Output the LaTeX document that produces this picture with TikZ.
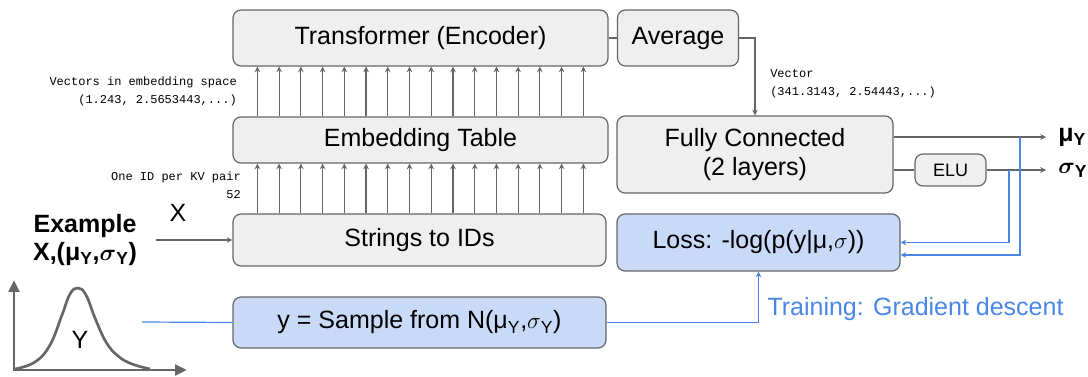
\documentclass[tikz,border=0pt]{standalone}
\usepackage{fontspec}
\setmainfont{Liberation Sans}
\setmonofont{Liberation Mono}
\usepackage{amsmath,amssymb}
\usetikzlibrary{calc,positioning,arrows.meta}
\tikzset{>=stealth}
\definecolor{boxgray}{HTML}{EFEFEF}
\definecolor{linegray}{HTML}{666666}
\definecolor{lossblue}{HTML}{C9DAF8}
\definecolor{trainblue}{HTML}{4A86E8}
\newcommand{\bsig}{$\boldsymbol{\sigma}$}
\newcommand{\sig}{$\sigma$}

\begin{document}
\begin{tikzpicture}[x=0.75pt,y=-0.75pt,
  box/.style={draw=linegray,fill=boxgray,rounded corners=6pt,line width=0.9pt,
    font=\fontsize{18.75}{22}\selectfont,align=center,inner sep=0pt},
  bluebox/.style={box,fill=lossblue},
  wire/.style={draw=linegray,line width=0.9pt},
  fb/.style={draw=trainblue,line width=0.9pt},
  big/.style={font=\fontsize{18.75}{22}\selectfont,inner sep=0pt},
  note/.style={font=\ttfamily\fontsize{9}{13.5}\selectfont,inner sep=0pt}]
\useasboundingbox (0,0) rectangle (1088,377);
% boxes
\node[box,minimum width=281.25pt,minimum height=42pt] (enc) at (420.5,38) {Transformer (Encoder)};
\node[box,minimum width=90.75pt,minimum height=42pt] (avg) at (678,38) {Average};
\node[box,minimum width=281.25pt,minimum height=34.5pt] (embed) at (420.5,140) {Embedding Table};
\node[box,minimum width=279.75pt,minimum height=39pt] (strings) at (419.5,240) {Strings to IDs};
\node[box,minimum width=207pt,minimum height=57.75pt] (fc) at (755,154.5) {Fully Connected\\(2 layers)};
\node[box,minimum width=53.25pt,minimum height=24pt,font=\fontsize{13.5}{16}\selectfont] (elu) at (950.5,170) {ELU};
\node[bluebox,minimum width=212.25pt,minimum height=42.75pt] (loss) at (758.5,242.5) {Loss: -log(p(y|μ,\sig))};
\node[bluebox,minimum width=279.75pt,minimum height=38.25pt] (sample) at (419.5,322.5) {y = Sample from N(μ\textsubscript{Y},\sig\textsubscript{Y})};
% notes
\node[note,anchor=east,align=right] (vecs) at (237,91) {Vectors in embedding space\\(1.243, 2.5653443,...)};
\node[note,anchor=east,align=right] (ids) at (241,185) {One ID per KV pair\\52};
\node[note,anchor=west,align=left] (vec) at (770,84) {Vector\\(341.3143, 2.54443,...)};
% arrows between the stacks
\foreach \i in {0,...,15}{
\draw[wire,->] ($(strings.north west)+({25+21.73*\i},0)$) -- ($(embed.south west)+({25+21.73*\i},0)$);
\draw[wire,->] ($(embed.north west)+({25+21.73*\i},0)$) -- ($(enc.south west)+({25+21.73*\i},0)$);
};
\draw[wire] (enc) -- (avg);
\draw[wire,->] (avg.east) -| (fc.north);
% outputs
\coordinate (muend) at (1046,137);
\coordinate (sigend) at (1046,170);
\node[big,right=9pt of muend] (mu) {\textbf{μ\textsubscript{Y}}};
\node[big,right=9pt of sigend] (sigma) {\textbf{\bsig\textsubscript{Y}}};
\draw[wire,->] (fc.east |- muend) -- (muend);
\draw[wire] (fc.east |- sigend) -- (elu);
\draw[wire,->] (elu) -- (sigend);
\coordinate (tapS) at (1009,170);
\coordinate (tapM) at (1020,137);
\draw[fb,->] (tapS) |- (loss.east);
\draw[fb,->] (tapM) |- ($(loss.east)+(0,12.5)$);
% input side
\node[big,align=center,font=\bfseries\fontsize{18.75}{21}\selectfont] (example) at (85,240) {Example\\X,(μ\textsubscript{Y},\bsig\textsubscript{Y})};
\node[big] (xlab) at (178,213) {X};
\coordinate (xin) at (156,240);
\draw[wire,->] (xin) -- (strings.west);
% gaussian
\draw[linegray,line width=2.2pt,{Triangle[length=9pt,width=8pt]}-{Triangle[length=9pt,width=8pt]}] (14,280) -- (14,370) -- (187,370);
\draw[linegray,line width=2pt] plot[smooth,tension=0.7] coordinates {(15,369) (35,362) (50,345) (62,315) (70,294) (78,288) (86,295) (95,318) (106,342) (118,356) (132,364) (150,369)};
\node[big] (ylab) at (80,340) {Y};
\coordinate (yin) at (142,322);
\draw[fb] (yin) -- (sample.west);
\draw[fb,->] (sample.east) -| (loss.south);
\node[big,text=trainblue] (train) at (915.5,309) {Training: Gradient descent};
\end{tikzpicture}
\end{document}
